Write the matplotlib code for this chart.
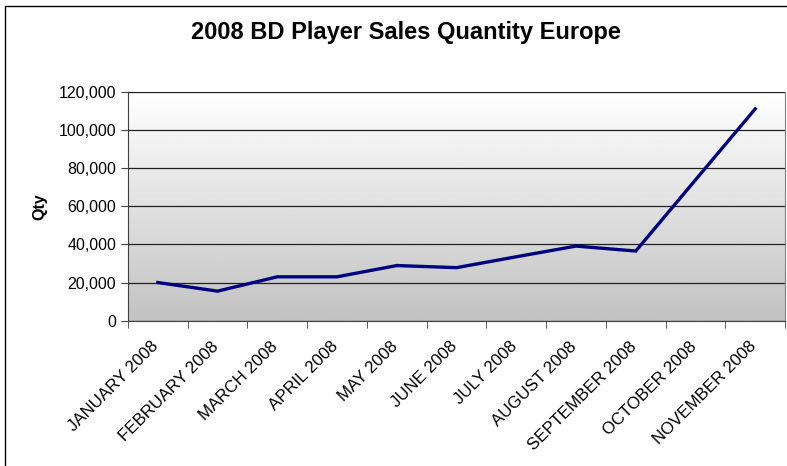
import numpy as np
import matplotlib.pyplot as plt
import matplotlib.transforms as mtransforms
from matplotlib.patches import Rectangle
from matplotlib.ticker import FuncFormatter

plt.rcParams["font.family"] = ["Liberation Sans", "DejaVu Sans"]

months = ["JANUARY 2008", "FEBRUARY 2008", "MARCH 2008", "APRIL 2008", "MAY 2008",
          "JUNE 2008", "JULY 2008", "AUGUST 2008", "SEPTEMBER 2008", "OCTOBER 2008",
          "NOVEMBER 2008"]
qty = [20000, 15500, 23000, 23000, 28900, 27800, 33500, 39100, 36500, 73800, 111000]

fig = plt.figure(figsize=(7.87, 4.66), dpi=100)
ax = fig.add_axes([0.1626, 0.3118, 0.835, 0.4914])

# gradient background of the plot area, white on top to grey at bottom
grad = np.linspace(0.76, 1.0, 256).reshape(-1, 1)
ax.imshow(grad, cmap="gray", vmin=0, vmax=1, aspect="auto", origin="lower",
          extent=[0, 1, 0, 1], transform=ax.transAxes, zorder=0)

x = np.arange(len(months))
ax.plot(x, qty, color="#000080", lw=2.4, zorder=3, solid_joinstyle="miter")

ax.set_xlim(-0.5, len(months) - 0.5)
ax.set_ylim(0, 120000)
ax.set_yticks(range(0, 120001, 20000))
ax.yaxis.set_major_formatter(FuncFormatter(lambda v, p: f"{int(v):,}"))
ax.grid(axis="y", color="#202020", lw=0.9, zorder=1)
ax.set_axisbelow(False)

ax.set_xticks(x)
ax.set_xticklabels(months, rotation=45, ha="right", rotation_mode="anchor", fontsize=12.2)
ax.set_xticks(np.arange(-0.5, len(months)), minor=True)
ax.tick_params(axis="x", which="major", length=0, pad=13)
ax.tick_params(axis="x", which="minor", length=5, color="#404040")
ax.tick_params(axis="y", length=5, labelsize=11.5, color="#404040")

# nudge the rotated month labels a little to the left
shift = mtransforms.ScaledTranslation(-7 / 100, 0, fig.dpi_scale_trans)
for lbl in ax.get_xticklabels():
    lbl.set_transform(lbl.get_transform() + shift)

for s in ["top", "right"]:
    ax.spines[s].set_color("#808080")
ax.spines["left"].set_color("#404040")
ax.spines["bottom"].set_color("#404040")

ax.set_ylabel("Qty", fontsize=11.5, fontweight="bold", labelpad=8)
fig.text(0.516, 1 - 39.5 / 466, "2008 BD Player Sales Quantity Europe", ha="center", va="baseline",
         fontsize=17, fontweight="bold")

# chart border
fig.patches.append(Rectangle((5 / 787, -0.1), 1.2, 1 - 6 / 466 + 0.1, transform=fig.transFigure,
                             fill=False, edgecolor="black", lw=1))

fig.savefig("out.png", dpi=100)
